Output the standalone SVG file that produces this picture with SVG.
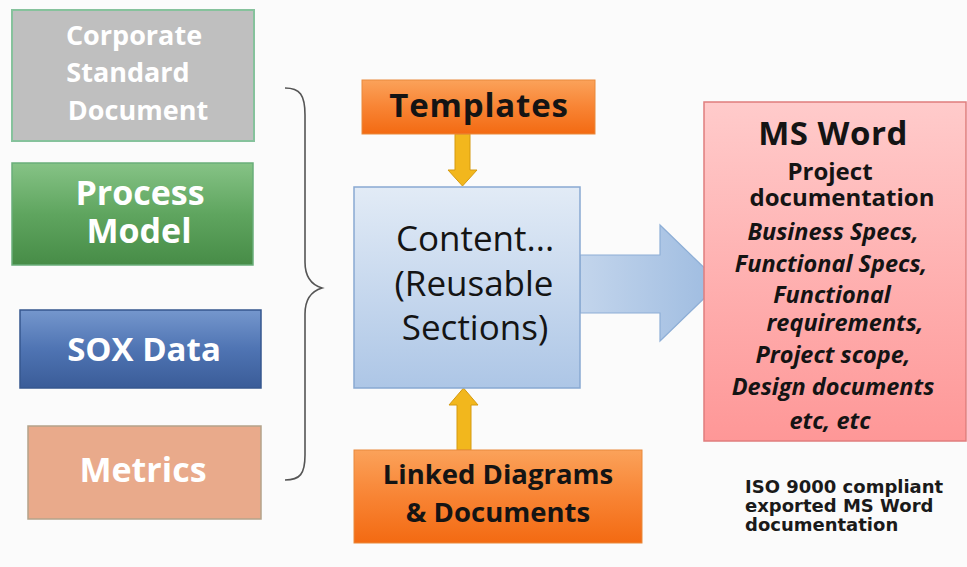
<svg xmlns="http://www.w3.org/2000/svg" width="967" height="567" viewBox="0 0 967 567">
<style>
.w{fill:#fff;font-family:"Open Sans",Lato,sans-serif;font-weight:700;text-anchor:middle}
.k{fill:#141414;font-family:"Open Sans",Lato,sans-serif;text-anchor:middle}
.b{font-weight:700}
.i{font-weight:700;font-style:italic}
.iso{fill:#1a1a1a;font-family:"DejaVu Sans",sans-serif;font-weight:700;font-size:18px}
</style>
<defs>
<linearGradient id="gGreen" x1="0" y1="0" x2="0" y2="1"><stop offset="0" stop-color="#86c386"/><stop offset="0.5" stop-color="#5fa55f"/><stop offset="1" stop-color="#478c47"/></linearGradient>
<linearGradient id="gBlue" x1="0" y1="0" x2="0" y2="1"><stop offset="0" stop-color="#7597cd"/><stop offset="0.5" stop-color="#4f74b3"/><stop offset="1" stop-color="#3a5c98"/></linearGradient>
<linearGradient id="gOrange" x1="0" y1="0" x2="0" y2="1"><stop offset="0" stop-color="#fba25a"/><stop offset="0.5" stop-color="#f88434"/><stop offset="1" stop-color="#f36a12"/></linearGradient>
<linearGradient id="gContent" x1="0" y1="0" x2="0" y2="1"><stop offset="0" stop-color="#e2ebf6"/><stop offset="1" stop-color="#adc6e6"/></linearGradient>
<linearGradient id="gArrow" x1="0" y1="0" x2="1" y2="0"><stop offset="0" stop-color="#c3d5ec"/><stop offset="1" stop-color="#9dbbe0"/></linearGradient>
<linearGradient id="gPink" x1="0" y1="0" x2="0" y2="1"><stop offset="0" stop-color="#ffcbcb"/><stop offset="1" stop-color="#fe9797"/></linearGradient>
</defs>
<rect width="967" height="567" fill="#fbfbfb"/>

<g id="connectors">
<path d="M285,88 C300,88 305,95 305,115 L305,262 C305,278 312,285 322,288 C312,291 305,298 305,314 L305,455 C305,474 300,480 285,480" fill="none" stroke="#555" stroke-width="1.6"/>
<path d="M455,134 L470,134 L470,170 L477,170 L462.5,186 L448,170 L455,170 Z" fill="#f2b71d" stroke="#d59a10" stroke-width="1"/>
<path d="M457,450 L471,450 L471,405 L478,405 L463.5,388 L449,405 L457,405 Z" fill="#f2b71d" stroke="#d59a10" stroke-width="1"/>
<path d="M580,255 L660,255 L660,225 L720,283 L660,341 L660,313 L580,313 Z" fill="url(#gArrow)" stroke="#8daed6" stroke-width="1.2"/>
</g>

<g id="corporate">
<rect x="12" y="10" width="242" height="131" fill="#bfbfbf" stroke="#86c29c" stroke-width="2"/>
<text class="w" font-size="27" x="134" y="45">Corporate</text>
<text class="w" font-size="27" x="128" y="82">Standard</text>
<text class="w" font-size="27" x="138" y="120">Document</text>
</g>

<g id="process">
<rect x="12" y="163" width="241" height="102" fill="url(#gGreen)" stroke="#6aae7a" stroke-width="1.5"/>
<text class="w" font-size="34" x="140" y="205">Process</text>
<text class="w" font-size="34" x="139" y="243">Model</text>
</g>

<g id="sox">
<rect x="20" y="310" width="241" height="78" fill="url(#gBlue)" stroke="#36578f" stroke-width="1.5"/>
<text class="w" font-size="33" x="144" y="361">SOX Data</text>
</g>

<g id="metrics">
<rect x="28" y="426" width="233" height="93" fill="#e9aa8b" stroke="#b4a38a" stroke-width="1.5"/>
<text class="w" font-size="34" x="143" y="482">Metrics</text>
</g>

<g id="templates">
<rect x="362" y="80" width="233" height="54" fill="url(#gOrange)" stroke="#e98a3c" stroke-width="1"/>
<text class="k b" font-size="33" letter-spacing="0.8" x="479" y="117">Templates</text>
</g>

<g id="content">
<rect x="354" y="187" width="226" height="201" fill="url(#gContent)" stroke="#89a9d2" stroke-width="1.5"/>
<text class="k" font-size="35" x="475" y="251">Content...</text>
<text class="k" font-size="35" x="474" y="296">(Reusable</text>
<text class="k" font-size="35" x="475" y="340">Sections)</text>
</g>

<g id="linked">
<rect x="354" y="450" width="288" height="93" fill="url(#gOrange)" stroke="#e98a3c" stroke-width="1"/>
<text class="k b" font-size="27.5" x="498" y="484">Linked Diagrams</text>
<text class="k b" font-size="27.5" x="498" y="522">&amp; Documents</text>
</g>

<g id="msword">
<rect x="704" y="102" width="262" height="339" fill="url(#gPink)" stroke="#e07d7d" stroke-width="1.5"/>
<text class="k b" font-size="33" letter-spacing="0.5" x="833" y="145">MS Word</text>
<text class="k b" font-size="24" x="830" y="180">Project</text>
<text class="k b" font-size="24" x="842" y="206">documentation</text>
<text class="k i" font-size="23.5" x="833" y="240">Business Specs,</text>
<text class="k i" font-size="23.5" x="831" y="272">Functional Specs,</text>
<text class="k i" font-size="23.5" x="832" y="303">Functional</text>
<text class="k i" font-size="23.5" x="845" y="331">requirements,</text>
<text class="k i" font-size="23.5" x="833" y="363">Project scope,</text>
<text class="k i" font-size="23.5" x="833" y="395">Design documents</text>
<text class="k i" font-size="23.5" x="830" y="429">etc, etc</text>
</g>

<g id="iso">
<text class="iso" x="745" y="493">ISO 9000 compliant</text>
<text class="iso" x="745" y="512">exported MS Word</text>
<text class="iso" x="745" y="531">documentation</text>
</g>
</svg>
